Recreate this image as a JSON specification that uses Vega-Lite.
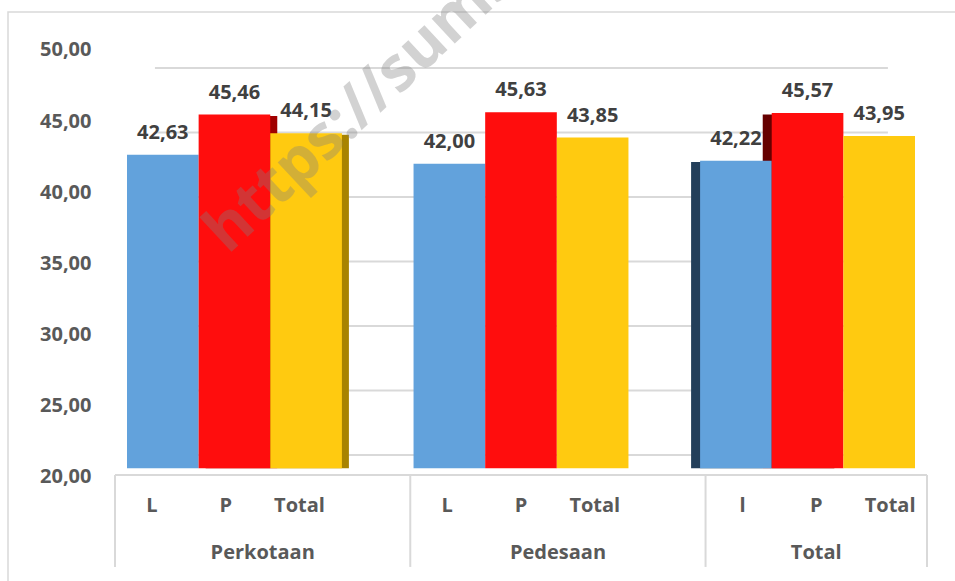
{
  "$schema": "https://vega.github.io/schema/vega-lite/v6.json",
  "autosize": {"type": "none"},
  "padding": {"left": 8, "top": 12, "right": 0, "bottom": 0},
  "width": 950,
  "height": 578,
  "background": "white",
  "config": {
    "view": {"stroke": "#d9d9d9", "strokeWidth": 1.5},
    "locale": {"number": {"decimal": ",", "thousands": ".", "grouping": [3], "currency": ["Rp", ""]}},
    "text": {"font": "Open Sans", "fontWeight": "bold", "fontSize": 20}
  },
  "datasets": {
    "bars": [
      {"group": "Perkotaan", "sub": "L", "label": "L", "value": 42.63},
      {"group": "Perkotaan", "sub": "P", "label": "P", "value": 45.46},
      {"group": "Perkotaan", "sub": "Total", "label": "Total", "value": 44.15},
      {"group": "Pedesaan", "sub": "L", "label": "L", "value": 42.00},
      {"group": "Pedesaan", "sub": "P", "label": "P", "value": 45.63},
      {"group": "Pedesaan", "sub": "Total", "label": "Total", "value": 43.85},
      {"group": "Total", "sub": "L", "label": "l", "value": 42.22},
      {"group": "Total", "sub": "P", "label": "P", "value": 45.57},
      {"group": "Total", "sub": "Total", "label": "Total", "value": 43.95}
    ],
    "groups": [{"group": "Perkotaan"}, {"group": "Pedesaan"}, {"group": "Total"}],
    "ticks": [{"v": 20}, {"v": 25}, {"v": 30}, {"v": 35}, {"v": 40}, {"v": 45}, {"v": 50}],
    "one": [{"wm": "https://sumsel.bps.go.id"}]
  },
  "resolve": {
    "scale": {"x": "independent", "y": "independent", "xOffset": "independent", "color": "independent"},
    "axis": {"x": "independent", "y": "independent"}
  },
  "layer": [
    {
      "data": {"name": "ticks"},
      "mark": {"type": "rule", "color": "#d9d9d9", "strokeWidth": 2},
      "encoding": {
        "x": {"datum": "Perkotaan", "type": "nominal", "bandPosition": 0.13,
              "scale": {"type": "band", "domain": ["Perkotaan", "Pedesaan", "Total"], "range": [119, 907], "paddingInner": 0.25, "paddingOuter": 0}, "axis": null},
        "x2": {"datum": "Total", "bandPosition": 0.874},
        "y": {"field": "v", "type": "quantitative", "scale": {"domain": [9.535, 54.34], "nice": false, "zero": false}, "axis": null}
      }
    },
    {
      "data": {"name": "bars"},
      "transform": [{"filter": "datum.group == 'Perkotaan' && datum.sub != 'L'"}],
      "mark": {"type": "bar"},
      "encoding": {
        "x": {"field": "group", "type": "nominal",
              "scale": {"type": "band", "domain": ["Perkotaan", "Pedesaan", "Total"], "range": [126, 914], "paddingInner": 0.25, "paddingOuter": 0}, "axis": null},
        "xOffset": {"field": "sub", "type": "nominal", "scale": {"type": "band", "domain": ["L", "P", "Total"], "paddingInner": 0, "paddingOuter": 0}},
        "y": {"field": "value", "type": "quantitative", "scale": {"domain": [12.15, 52.77], "nice": false, "zero": false}, "axis": null},
        "y2": {"datum": 20.7},
        "color": {"condition": {"test": "datum.sub == 'P'", "value": "#a00000"}, "value": "#a88300"}
      }
    },
    {
      "data": {"name": "bars"},
      "transform": [{"filter": "datum.group == 'Total' && datum.sub != 'Total'"}],
      "mark": {"type": "bar"},
      "encoding": {
        "x": {"field": "group", "type": "nominal",
              "scale": {"type": "band", "domain": ["Perkotaan", "Pedesaan", "Total"], "range": [110, 898], "paddingInner": 0.25, "paddingOuter": 0}, "axis": null},
        "xOffset": {"field": "sub", "type": "nominal", "scale": {"type": "band", "domain": ["L", "P", "Total"], "paddingInner": 0, "paddingOuter": 0}},
        "y": {"field": "value", "type": "quantitative", "scale": {"domain": [12.15, 52.77], "nice": false, "zero": false}, "axis": null},
        "y2": {"datum": 20.7},
        "color": {"condition": {"test": "datum.sub == 'L'", "value": "#233f5a"}, "value": "#660000"}
      }
    },
    {
      "data": {"name": "bars"},
      "encoding": {
        "x": {"field": "group", "type": "nominal",
              "scale": {"type": "band", "domain": ["Perkotaan", "Pedesaan", "Total"], "range": [119, 907], "paddingInner": 0.25, "paddingOuter": 0}, "axis": null},
        "xOffset": {"field": "sub", "type": "nominal", "scale": {"type": "band", "domain": ["L", "P", "Total"], "paddingInner": 0, "paddingOuter": 0}},
        "y": {"field": "value", "type": "quantitative",
              "scale": {"domain": [12.05, 52.67], "nice": false, "zero": false},
              "axis": {"values": [20, 25, 30, 35, 40, 45, 50], "format": ".2f", "offset": -83, "labelPadding": 0, "ticks": false, "tickSize": 0, "domain": false, "grid": false, "title": null,
                       "labelFont": "Open Sans", "labelFontSize": 20, "labelFontWeight": "bold", "labelColor": "#595959"}}
      },
      "layer": [
        {
          "mark": {"type": "bar"},
          "encoding": {
            "y2": {"datum": 20.6},
            "color": {"field": "sub", "type": "nominal", "scale": {"domain": ["L", "P", "Total"], "range": ["#62a2dc", "#ff0d0d", "#ffca10"]}, "legend": null}
          }
        },
        {
          "mark": {"type": "text", "dy": -16, "baseline": "alphabetic", "color": "#404040"},
          "encoding": {
            "text": {"field": "value", "type": "quantitative", "format": ".2f"}
          }
        }
      ]
    },
    {
      "data": {"name": "one"},
      "mark": {"type": "text", "angle": -43, "align": "left", "baseline": "alphabetic", "fontSize": 62, "color": "#808080", "opacity": 0.35},
      "encoding": {
        "x": {"datum": "Perkotaan", "type": "nominal", "bandPosition": 0.47,
              "scale": {"type": "band", "domain": ["Perkotaan", "Pedesaan", "Total"], "range": [119, 907], "paddingInner": 0.25, "paddingOuter": 0}, "axis": null},
        "y": {"datum": 35.6, "type": "quantitative", "scale": {"domain": [12.05, 52.67], "nice": false, "zero": false}, "axis": null},
        "text": {"field": "wm"}
      }
    },
    {
      "encoding": {
        "y": {"type": "quantitative", "scale": {"domain": [12.05, 52.67], "nice": false, "zero": false}, "axis": null}
      },
      "layer": [
        {
          "data": {"name": "one"},
          "mark": {"type": "rule", "color": "#d9d9d9", "strokeWidth": 2},
          "encoding": {
            "x": {"datum": "Perkotaan", "type": "nominal", "bandPosition": 0,
                  "scale": {"type": "band", "domain": ["Perkotaan", "Pedesaan", "Total"], "range": [107, 919], "paddingInner": 0.25, "paddingOuter": 0}, "axis": null},
            "x2": {"datum": "Total", "bandPosition": 1},
            "y": {"datum": 20.13, "type": "quantitative"}
          }
        },
        {
          "data": {"name": "groups"},
          "mark": {"type": "rule", "color": "#d9d9d9", "strokeWidth": 2},
          "encoding": {
            "x": {"field": "group", "type": "nominal", "bandPosition": 0,
                  "scale": {"type": "band", "domain": ["Perkotaan", "Pedesaan", "Total"], "range": [107, 919], "paddingInner": 0.25, "paddingOuter": 0}, "axis": null},
            "y": {"datum": 20.13, "type": "quantitative"},
            "y2": {"datum": 13.67}
          }
        },
        {
          "data": {"name": "one"},
          "mark": {"type": "rule", "color": "#d9d9d9", "strokeWidth": 2},
          "encoding": {
            "x": {"datum": "Total", "type": "nominal", "bandPosition": 1,
                  "scale": {"type": "band", "domain": ["Perkotaan", "Pedesaan", "Total"], "range": [107, 919], "paddingInner": 0.25, "paddingOuter": 0}, "axis": null},
            "y": {"datum": 20.13, "type": "quantitative"},
            "y2": {"datum": 13.67}
          }
        },
        {
          "data": {"name": "bars"},
          "mark": {"type": "text", "baseline": "middle", "align": "center", "color": "#595959"},
          "encoding": {
            "x": {"field": "group", "type": "nominal",
                  "scale": {"type": "band", "domain": ["Perkotaan", "Pedesaan", "Total"], "range": [107, 919], "paddingInner": 0.25, "paddingOuter": 0}, "axis": null},
            "xOffset": {"field": "sub", "type": "nominal", "scale": {"type": "band", "domain": ["L", "P", "Total"], "paddingInner": 0, "paddingOuter": 0}},
            "y": {"datum": 17.95, "type": "quantitative"},
            "text": {"field": "label"}
          }
        },
        {
          "data": {"name": "groups"},
          "transform": [{"filter": "datum.group != 'Total'"}],
          "mark": {"type": "text", "baseline": "middle", "color": "#595959"},
          "encoding": {
            "x": {"field": "group", "type": "nominal", "bandPosition": 0.667,
                  "scale": {"type": "band", "domain": ["Perkotaan", "Pedesaan", "Total"], "range": [107, 919], "paddingInner": 0.25, "paddingOuter": 0}, "axis": null},
            "y": {"datum": 14.65, "type": "quantitative"},
            "text": {"field": "group"}
          }
        },
        {
          "data": {"name": "groups"},
          "transform": [{"filter": "datum.group == 'Total'"}],
          "mark": {"type": "text", "baseline": "middle", "color": "#595959"},
          "encoding": {
            "x": {"field": "group", "type": "nominal", "bandPosition": 0.5,
                  "scale": {"type": "band", "domain": ["Perkotaan", "Pedesaan", "Total"], "range": [107, 919], "paddingInner": 0.25, "paddingOuter": 0}, "axis": null},
            "y": {"datum": 14.65, "type": "quantitative"},
            "text": {"field": "group"}
          }
        }
      ]
    }
  ]
}
